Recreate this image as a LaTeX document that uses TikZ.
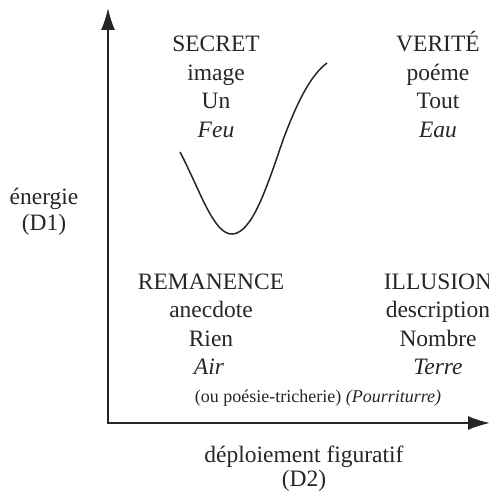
\documentclass[tikz,border=0pt]{standalone}
\usepackage{fontspec}
\setmainfont{Liberation Serif}
\usetikzlibrary{arrows.meta}
\tikzset{
  lbl/.style={anchor=base, inner sep=0pt, font=\fontsize{23.5}{28}\selectfont, text=black!85},
  small/.style={anchor=base, inner sep=0pt, font=\fontsize{18}{22}\selectfont, text=black!85},
  axis/.style={line width=1.7pt, draw=black!85, -{Latex[length=22pt,width=14pt]}},
  curve/.style={line width=1.5pt, draw=black!85}
}
\begin{document}
\begin{tikzpicture}[x=1pt,y=-1pt]
\useasboundingbox (0,0) rectangle (489,492);
% axes
\coordinate (O) at (108,423);
\coordinate (ytip) at (108,8);
\coordinate (xtip) at (490,423);
\draw[axis] (O) -- (ytip);
\draw[axis] ([xshift=-0.85pt]O) -- (xtip);
% curve
\coordinate (c0) at (180,152);
\coordinate (c1) at (233,234);
\coordinate (c2) at (283,140);
\coordinate (c3) at (327,63);
\draw[curve] (c0) .. controls (200,190) and (214,236) .. (c1)
  .. controls (252,232) and (266,190) .. (c2)
  .. controls (298,100) and (311,75) .. (c3);
% top-left
\node[lbl] (secret) at (216,52) {SECRET};
\node[lbl] (image) at (216,80.5) {image};
\node[lbl] (un) at (216,109) {Un};
\node[lbl] (feu) at (216,137.5) {\itshape Feu};
% top-right
\node[lbl] (verite) at (438,52) {VERITÉ};
\node[lbl] (poeme) at (438,80.5) {poéme};
\node[lbl] (tout) at (438,109) {Tout};
\node[lbl] (eau) at (438,137.5) {\itshape Eau};
% bottom-left
\node[lbl] (remanence) at (211,289) {REMANENCE};
\node[lbl] (anecdote) at (211,317) {anecdote};
\node[lbl] (rien) at (211,346) {Rien};
\node[lbl] (air) at (209,374.5) {\itshape Air};
% bottom-right
\node[lbl] (illusion) at (438,289) {ILLUSION};
\node[lbl] (description) at (438,317) {description};
\node[lbl] (nombre) at (438,346) {Nombre};
\node[lbl] (terre) at (438,374.5) {\itshape Terre};
\node[small] (note) at (318,402) {(ou poésie-tricherie) \textit{(Pourriturre)}};
% axis labels
\node[lbl] (energie) at (44,204) {énergie};
\node[lbl] (d1) at (44,230) {(D1)};
\node[lbl] (deploi) at (304,462) {déploiement figuratif};
\node[lbl] (d2) at (304,486) {(D2)};
\end{tikzpicture}
\end{document}
